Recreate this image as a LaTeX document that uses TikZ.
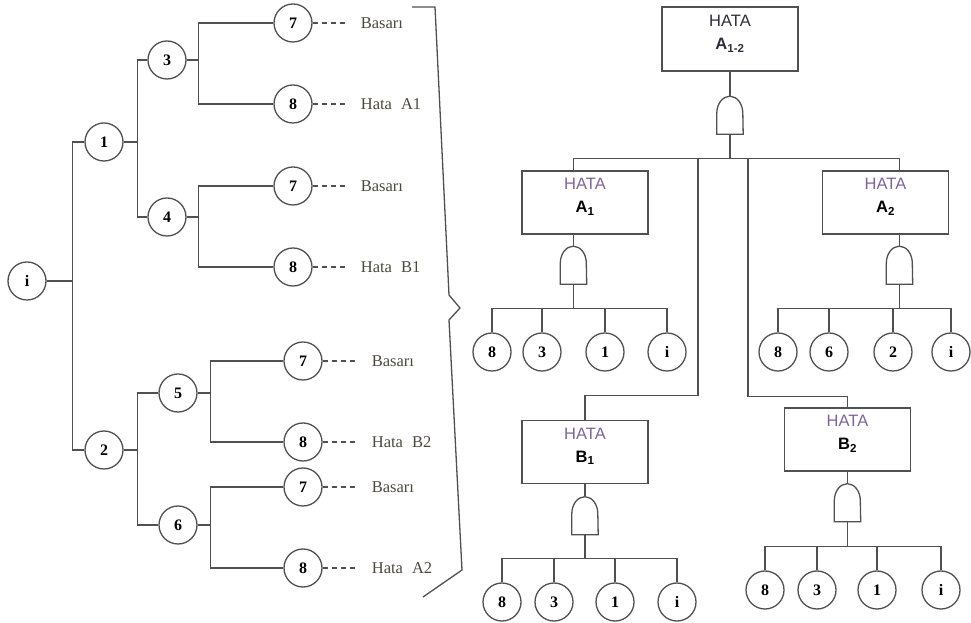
\documentclass[tikz,border=0pt]{standalone}
\usepackage{fontspec}
\setmainfont{Liberation Serif}
\newfontfamily\arialfont{Liberation Sans}
\usepackage{xcolor}
\usepackage{tikz}
\usetikzlibrary{positioning,calc}
\definecolor{lncol}{RGB}{80,80,80}
\definecolor{hatacol}{RGB}{128,100,150}
\definecolor{txtcol}{RGB}{75,72,60}
\definecolor{topcol}{RGB}{45,45,60}
% and gate outline on an empty rectangle node
\newcommand{\gateshape}[1]{%
  \draw[conn] (#1.south west) -- ++(0,21) arc[start angle=180, end angle=0, x radius=13pt, y radius=17pt] -- (#1.south east) -- cycle;}

\begin{document}
\begin{tikzpicture}[x=1pt, y=1pt,
  conn/.style={draw=lncol, line width=1.3pt},
  evt/.style={circle, draw=lncol, line width=1.3pt, minimum size=38pt, inner sep=0pt, font=\fontsize{16}{16}\selectfont\bfseries},
  lbl/.style={inner sep=3pt, text=txtcol, font=\fontsize{16.5}{16.5}\selectfont},
  dsh/.style={draw=lncol, line width=1.1pt, dash pattern=on 5pt off 4pt},
  hbox/.style={rectangle, draw=lncol, line width=1.4pt, minimum width=136pt, minimum height=64pt},
  sbox/.style={rectangle, draw=lncol, line width=1.4pt, minimum width=126pt, minimum height=63pt},
  txt/.style={anchor=north, inner sep=0pt, align=center, font=\arialfont\fontsize{16.5}{23}\selectfont},
  andg/.style={rectangle, minimum width=26pt, minimum height=38pt, inner sep=0pt}]
\useasboundingbox (0,0) rectangle (971,623);

% event tree
\node[evt] (i0) at (27,342) {i};
\node[evt] (n1) at (104,481) {1};
\node[evt] (n2) at (104,173) {2};
\node[evt] (n3) at (167,563) {3};
\node[evt] (n4) at (167,406) {4};
\node[evt] (n5) at (178,230) {5};
\node[evt] (n6) at (178,98) {6};
\node[evt] (n3a) at (293,600) {7};
\node[evt] (n3b) at (293,519) {8};
\node[evt] (n4a) at (293,437) {7};
\node[evt] (n4b) at (293,356) {8};
\node[evt] (n5a) at (303,262) {7};
\node[evt] (n5b) at (303,181) {8};
\node[evt] (n6a) at (303,136) {7};
\node[evt] (n6b) at (303,55) {8};

\coordinate (j0) at ($(i0.east)+(26,0)$);
\coordinate (j1) at ($(n1.east)+(14,0)$);
\coordinate (j2) at ($(n2.east)+(14,0)$);
\coordinate (j3) at ($(n3.east)+(12,0)$);
\coordinate (j4) at ($(n4.east)+(12,0)$);
\coordinate (j5) at ($(n5.east)+(13,0)$);
\coordinate (j6) at ($(n6.east)+(13,0)$);

\draw[conn] (i0) -- (j0);
\draw[conn] (n1) -| (j0) |- (n2);
\draw[conn] (n1) -- (j1);
\draw[conn] (n3) -| (j1) |- (n4);
\draw[conn] (n2) -- (j2);
\draw[conn] (n5) -| (j2) |- (n6);
\draw[conn] (n3) -- (j3);
\draw[conn] (n3a) -| (j3) |- (n3b);
\draw[conn] (n4) -- (j4);
\draw[conn] (n4a) -| (j4) |- (n4b);
\draw[conn] (n5) -- (j5);
\draw[conn] (n5a) -| (j5) |- (n5b);
\draw[conn] (n6) -- (j6);
\draw[conn] (n6a) -| (j6) |- (n6b);

% outcomes
\node[lbl, right=45pt of n3a] (l3a) {Basarı};
\node[lbl, right=45pt of n3b] (l3b) {Hata\hspace{0.55em}A1};
\node[lbl, right=45pt of n4a] (l4a) {Basarı};
\node[lbl, right=45pt of n4b] (l4b) {Hata\hspace{0.55em}B1};
\node[lbl, right=46pt of n5a] (l5a) {Basarı};
\node[lbl, right=46pt of n5b] (l5b) {Hata\hspace{0.55em}B2};
\node[lbl, right=46pt of n6a] (l6a) {Basarı};
\node[lbl, right=46pt of n6b] (l6b) {Hata\hspace{0.55em}A2};
\foreach \s in {3a,3b,4a,4b,5a,5b,6a,6b}
  \draw[dsh] (n\s) -- ([xshift=-12pt]l\s.west);

% brace
\draw[conn] (412,616) -- (435,616) -- (449,328) -- (460,315) -- (449,303) -- (462,53) -- (423,26);

% fault tree
\node[hbox] (T) at (730,584) {};
\node[txt, text=topcol] (Tt) at ([yshift=-9pt]T.north) {HATA\\\textbf{A\textsubscript{1-2}}};
\node[andg] (G0) at (730,508) {};
\gateshape{G0}
\coordinate (b0) at ($(G0.south)+(0,-24)$);
\draw[conn] (T) -- (G0);
\draw[conn] (G0) -- (b0);

\node[sbox] (A1) at (585,420.5) {};
\node[txt] (A1t) at ([yshift=-8pt]A1.north) {\textcolor{hatacol}{HATA}\\\textbf{A\textsubscript{1}}};
\node[sbox] (A2) at (885.5,420.5) {};
\node[txt] (A2t) at ([yshift=-8pt]A2.north) {\textcolor{hatacol}{HATA}\\\textbf{A\textsubscript{2}}};
\node[andg] (gA1) at (573.5,358) {};
\node[andg] (gA2) at (899.5,358) {};
\gateshape{gA1}
\gateshape{gA2}
\draw[conn] (gA1 |- A1.north) |- (b0) -| (gA2 |- A2.north);
\draw[conn] (gA1 |- A1.south) -- (gA1);
\draw[conn] (gA2 |- A2.south) -- (gA2);

\node[sbox] (B1) at (585,171) {};
\node[txt] (B1t) at ([yshift=-8pt]B1.north) {\textcolor{hatacol}{HATA}\\\textbf{B\textsubscript{1}}};
\node[sbox] (B2) at (847.5,183.5) {};
\node[txt] (B2t) at ([yshift=-8pt]B2.north) {\textcolor{hatacol}{HATA}\\\textbf{B\textsubscript{2}}};
\coordinate (kB1) at ($(b0)+(-32,0)$);
\coordinate (kB2) at ($(b0)+(18,0)$);
\draw[conn] (kB1) |- ([yshift=24pt]B1.north) -- (B1);
\draw[conn] (kB2) |- ([yshift=11pt]B2.north) -- (B2);
\node[andg] (gB1) at (585,107.5) {};
\node[andg] (gB2) at (847.5,120.5) {};
\gateshape{gB1}
\gateshape{gB2}
\draw[conn] (B1) -- (gB1);
\draw[conn] (B2) -- (gB2);

% basic events under each gate
\coordinate (bA1) at ($(gA1.south)+(0,-24)$);
\coordinate (bA2) at ($(gA2.south)+(0,-24)$);
\coordinate (bB1) at ($(gB1.south)+(0,-24)$);
\coordinate (bB2) at ($(gB2.south)+(0,-25)$);
\draw[conn] (gA1) -- (bA1);
\draw[conn] (gA2) -- (bA2);
\draw[conn] (gB1) -- (bB1);
\draw[conn] (gB2) -- (bB2);

\node[evt] (a1e1) at (492,271) {8};
\node[evt] (a1e2) at (542,271) {3};
\node[evt] (a1e3) at (605,271) {1};
\node[evt] (a1e4) at (667,271) {i};
\node[evt] (a2e1) at (778,271) {8};
\node[evt] (a2e2) at (829,271) {6};
\node[evt] (a2e3) at (893,271) {2};
\node[evt] (a2e4) at (951,271) {i};
\node[evt] (b1e1) at (502,21) {8};
\node[evt] (b1e2) at (554,21) {3};
\node[evt] (b1e3) at (615,21) {1};
\node[evt] (b1e4) at (677,21) {i};
\node[evt] (b2e1) at (765,33) {8};
\node[evt] (b2e2) at (817,33) {3};
\node[evt] (b2e3) at (877,33) {1};
\node[evt] (b2e4) at (941,33) {i};

\foreach \g/\b in {a1/A1, a2/A2, b1/B1, b2/B2} {
  \draw[conn] (\g e1) |- (b\b) -| (\g e4);
  \draw[conn] (\g e2) -- (\g e2 |- b\b);
  \draw[conn] (\g e3) -- (\g e3 |- b\b);
}
\end{tikzpicture}
\end{document}
